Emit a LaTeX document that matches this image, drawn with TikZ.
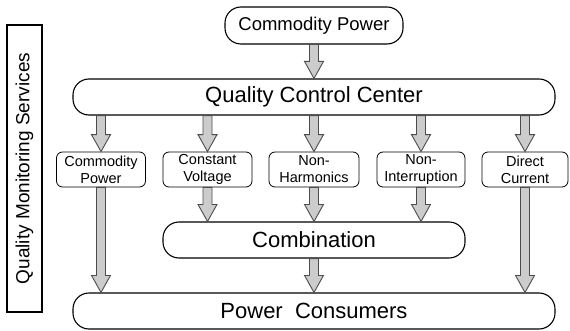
\documentclass[tikz,border=0pt]{standalone}
\usepackage{fontspec}
\setmainfont{Liberation Sans}
\usetikzlibrary{calc}

\definecolor{arrowfill}{gray}{0.80}
\definecolor{arrowline}{gray}{0.30}

\tikzset{
  bigbox/.style={draw, line width=1.1pt, rounded corners=16pt, minimum height=36pt,
    inner sep=0pt, font=\fontsize{22}{26}\selectfont},
  topbox/.style={bigbox, minimum height=37pt, font=\fontsize{18.5}{22}\selectfont},
  servicebox/.style={draw, line width=0.8pt, rounded corners=6pt, minimum height=35pt,
    text width=#1, align=center, inner sep=0pt, font=\fontsize{14.5}{17}\selectfont},
  flowarrow/.style={fill=arrowfill, draw=arrowline, line width=0.9pt, line join=miter}
}

% fat grey arrow from #1 down to #2
\newcommand{\fatarrow}[2]{%
  \draw[flowarrow] let \p1=(#1), \p2=(#2) in
    (\x1-4.5pt,\y1) -- (\x1-4.5pt,\y2+17pt) -- (\x1-9.5pt,\y2+17pt) -- (\x1,\y2)
    -- (\x1+9.5pt,\y2+17pt) -- (\x1+4.5pt,\y2+17pt) -- (\x1+4.5pt,\y1) -- cycle;}

\begin{document}
\begin{tikzpicture}[x=1pt,y=1pt]
%\draw[step=10pt,gray,very thin] (0,0) grid (570,330);
\useasboundingbox (0,0) rectangle (570,330);

\node[topbox, minimum width=178pt] (supply) at (314,304.5) {Commodity Power};
\node[bigbox, minimum width=482pt] (qcc) at (314,233) {Quality Control Center};

\node[servicebox=89pt] (cp) at (101,160.5) {Commodity\\Power};
\node[servicebox=89pt] (cv) at (207.5,160.5) {Constant\\Voltage};
\node[servicebox=90pt] (nh) at (314,160.5) {Non-\\Harmonics};
\node[servicebox=88pt] (ni) at (421,160.5) {Non-\\Interruption};
\node[servicebox=86pt] (dc) at (525,160.5) {Direct\\Current};

\node[bigbox, minimum width=302pt] (comb) at (314,90) {Combination};
\node[bigbox, minimum width=482pt] (users) at (314,19) {Power\ \ Consumers};

\node[draw, line width=1.1pt, minimum width=35pt, minimum height=287pt, inner sep=0pt]
  (qms) at (24.5,161.5) {};
\node[rotate=90, font=\fontsize{19}{22}\selectfont] at (qms.center) {Quality Monitoring Services};

\fatarrow{supply.south}{qcc.north}
\fatarrow{qcc.south -| cp.north}{cp.north}
\fatarrow{qcc.south -| cv.north}{cv.north}
\fatarrow{qcc.south -| nh.north}{nh.north}
\fatarrow{qcc.south -| ni.north}{ni.north}
\fatarrow{qcc.south -| dc.north}{dc.north}

\fatarrow{cv.south}{cv.south |- comb.north}
\fatarrow{nh.south}{comb.north}
\fatarrow{ni.south}{ni.south |- comb.north}

\fatarrow{cp.south}{cp.south |- users.north}
\fatarrow{comb.south}{users.north}
\fatarrow{dc.south}{dc.south |- users.north}
\end{tikzpicture}
\end{document}
